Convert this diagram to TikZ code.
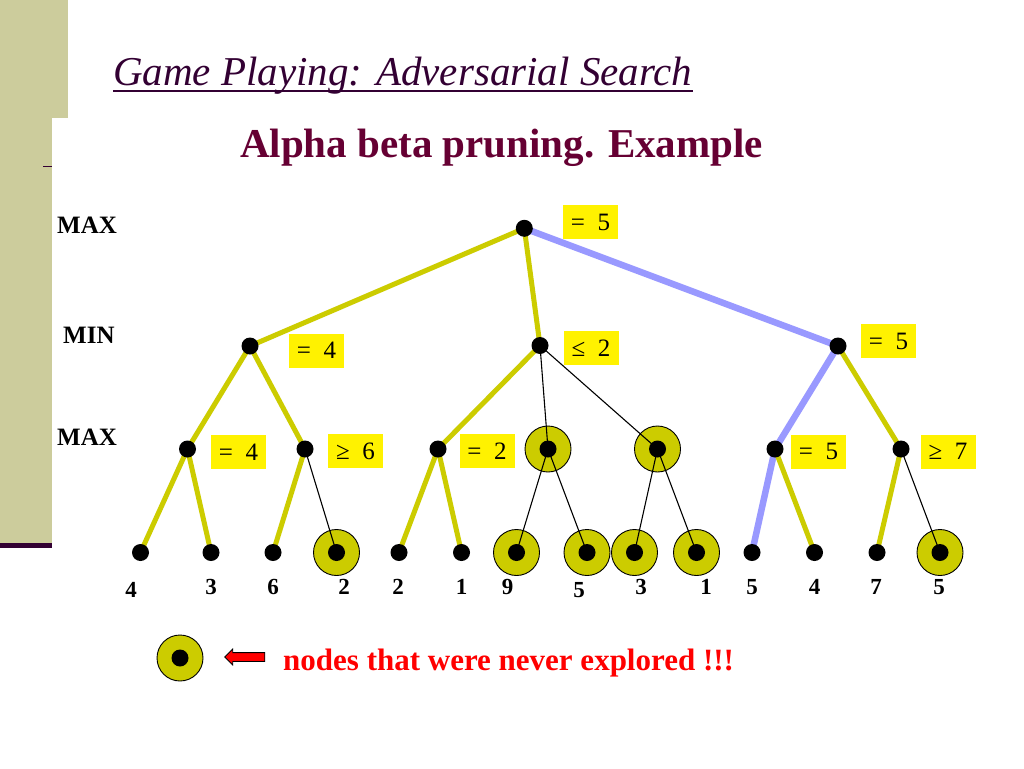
\documentclass[tikz,border=0pt]{standalone}
\usepackage{fontspec}
\setmainfont{Liberation Serif}
\usepackage{xcolor}
\usetikzlibrary{shapes.arrows}
\definecolor{olivebar}{RGB}{204,204,156}
\definecolor{edgeyel}{RGB}{204,204,0}
\definecolor{edgeblue}{RGB}{153,153,255}
\definecolor{titlecol}{RGB}{51,0,51}
\definecolor{subcol}{RGB}{102,0,51}
\newcommand{\fsz}[1]{\fontsize{#1}{#1}\selectfont}
\tikzset{
  dot/.style={circle,fill=black,inner sep=0pt,minimum size=17pt},
  skip/.style={circle,draw=black,line width=0.9pt,fill=edgeyel,inner sep=0pt,minimum size=46pt},
  val/.style={fill=yellow,inner sep=0pt,minimum width=55pt,minimum height=34pt,font=\fsz{25}},
  yel/.style={draw=edgeyel,line width=5pt},
  blu/.style={draw=edgeblue,line width=6.5pt},
  cut/.style={draw=black,line width=1.1pt},
  lvl/.style={anchor=base west,inner sep=0pt,font=\fsz{25}\bfseries},
  leaf/.style={anchor=base,inner sep=0pt,font=\fsz{23}\bfseries}
}

\begin{document}
\begin{tikzpicture}[x=1pt,y=-1pt]
  \fill[white] (0,0) rectangle (1024,768);
  \useasboundingbox (0,0) rectangle (1024,768);
  \fill[olivebar] (0,0) rectangle (68,118);
  \fill[olivebar] (0,118) rectangle (52,544);
  \fill[titlecol] (0,543) rectangle (52,548);
  \draw[titlecol,line width=1pt] (43,166) -- (52,166);

  \node[anchor=base west,inner sep=0pt,text=titlecol,font=\fsz{41}\itshape] (title) at (113,85) {Game Playing: Adversarial Search};
  \draw[titlecol,line width=2pt] ([yshift=-5.5pt]title.base west) -- ([yshift=-5.5pt]title.base east);
  \node[anchor=base,inner sep=0pt,text=subcol,font=\fsz{41}\bfseries] (sub) at (501.5,157) {Alpha beta pruning. Example};

  \node[lvl] (max1) at (57,233) {MAX};
  \node[lvl] (min1) at (63,343) {MIN};
  \node[lvl] (max2) at (57,445) {MAX};

  \coordinate (r) at (524.3,228.3);
  \coordinate (n1) at (250,346);
  \coordinate (n2) at (540,345.5);
  \coordinate (n3) at (838,346);
  \foreach \x [count=\i] in {187.5,305,438,548,657.5,775,901}
    \coordinate (m\i) at (\x,449);
  \foreach \x/\tx/\ty/\v [count=\i] in {140.5/131/597/4,211/211/594/3,273/273/594/6,336.5/344/594/2,
      399/398/594/2,461.5/461.5/594/1,516.5/507.5/594/9,587/579/597/5,634.5/641/594/3,
      696.5/706/594/1,752/752/594/5,814.5/814.5/594/4,877/876/594/7,940/939/594/5}{
    \coordinate (l\i) at (\x,552.5);
    \node[leaf] (t\i) at (\tx,\ty) {\v};
  }

  \foreach \c in {m4,m5,l4,l7,l8,l9,l10,l14}
    \node[skip] (o\c) at (\c) {};

  \draw[yel] (r) -- (n1);
  \draw[yel] (r) -- (n2);
  \draw[blu] (r) -- (n3);
  \draw[yel] (n1) -- (m1);
  \draw[yel] (n1) -- (m2);
  \draw[yel] (n2) -- (m3);
  \draw[cut] (n2) -- (m4);
  \draw[cut] (n2) -- (m5);
  \draw[blu] (n3) -- (m6);
  \draw[yel] (n3) -- (m7);
  \draw[yel] (m1) -- (l1);
  \draw[yel] (m1) -- (l2);
  \draw[yel] (m2) -- (l3);
  \draw[cut] (m2) -- (l4);
  \draw[yel] (m3) -- (l5);
  \draw[yel] (m3) -- (l6);
  \draw[cut] (m4) -- (l7);
  \draw[cut] (m4) -- (l8);
  \draw[cut] (m5) -- (l9);
  \draw[cut] (m5) -- (l10);
  \draw[blu] (m6) -- (l11);
  \draw[yel] (m6) -- (l12);
  \draw[yel] (m7) -- (l13);
  \draw[cut] (m7) -- (l14);

  \foreach \c in {r,n1,n2,n3,m1,m2,m3,m4,m5,m6,m7,l1,l2,l3,l4,l5,l6,l7,l8,l9,l10,l11,l12,l13,l14}
    \node[dot] (d\c) at (\c) {};

  \node[val] (v0) at (590.5,222) {=\ \ 5};
  \node[val] (v1) at (316.5,350.5) {=\ \ 4};
  \node[val] (v2) at (591,348) {≤\ \ 2};
  \node[val] (v3) at (888.5,341) {=\ \ 5};
  \node[val] (v4) at (238.5,452) {=\ \ 4};
  \node[val] (v5) at (355.5,451) {≥\ \ 6};
  \node[val] (v6) at (487,451) {=\ \ 2};
  \node[val] (v7) at (818.5,451.5) {=\ \ 5};
  \node[val] (v8) at (948,451.5) {≥\ \ 7};

  \node[skip] (key) at (180,658) {};
  \node[dot] (keydot) at (key) {};
  \node[single arrow,draw=black,line width=0.8pt,fill=red,shape border rotate=180,
    minimum height=40pt,inner xsep=0pt,inner ysep=4pt,single arrow head extend=3.5pt] (point) at (247,657) {};
  \node[anchor=base west,inner sep=0pt,text=red,font=\fsz{31}\bfseries] (keytext) at (283,670) {nodes that were never explored !!!};
\end{tikzpicture}
\end{document}
